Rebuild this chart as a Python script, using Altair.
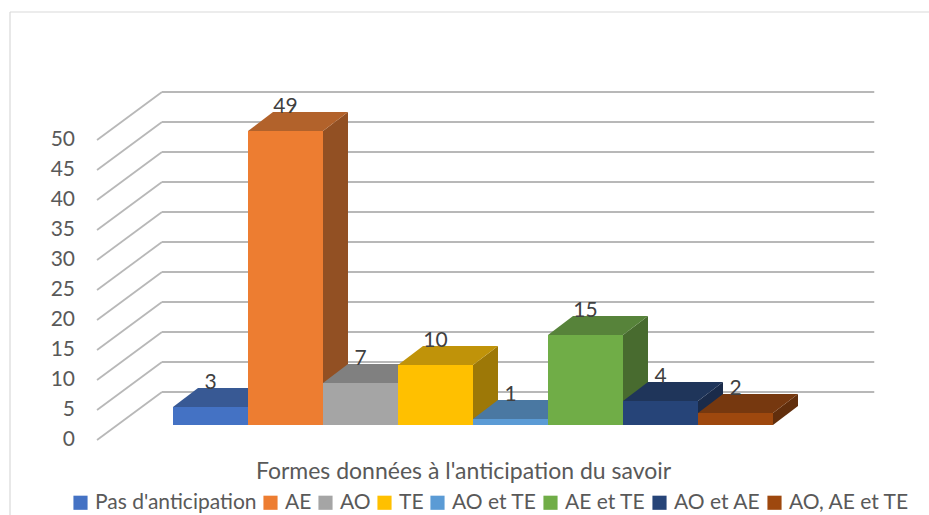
import altair as alt
import pandas as pd

# ---- data ----
categories = ["Pas d'anticipation", "AE", "AO", "TE", "AO et TE", "AE et TE", "AO et AE", "AO, AE et TE"]
values = [3, 49, 7, 10, 1, 15, 4, 2]
colors = ["#4472C4", "#ED7D31", "#A5A5A5", "#FFC000", "#5B9BD5", "#70AD47", "#264478", "#9E480E"]
ticks = [0, 5, 10, 15, 20, 25, 30, 35, 40, 45, 50]
axis_title = "Formes données à l'anticipation du savoir"

# ---- 3D styling constants (in scale units) ----
DX = 1 / 3          # depth shift of a bar, in bar widths
DY = 19 / 6         # depth rise of a bar, in value units
WALL_FX, WALL_BX = -1.013, -0.147   # wall front / back edge
WALL_FY, WALL_BY = -2.5, 5.5        # value offsets of wall front / back
GRID_END = 9.35
FONT = "Lato"
TXT = "#595959"


def shade(hex_color, f, grey=0.08):
    h = hex_color.lstrip("#")
    r, g, b = (int(h[i:i + 2], 16) for i in (0, 2, 4))
    m = (r + g + b) / 3
    out = []
    for c in (r, g, b):
        c = c * (1 - grey) + m * grey
        out.append(int(c * f))
    return "#%02x%02x%02x" % tuple(out)


bars = pd.DataFrame({"cat": categories, "value": values, "color": colors})
bars["x0"] = range(len(bars))
bars["x1"] = bars["x0"] + 1
bars["xc"] = bars["x0"] + 0.5
bars["ytop"] = bars["value"] + DY

top_rows, side_rows = [], []
for i, (c, v, col) in enumerate(zip(categories, values, colors)):
    ft = shade(col, 0.78)
    fs = shade(col, 0.64)
    top_rows += [
        {"fill": ft, "x": i, "lo": v, "hi": v},
        {"fill": ft, "x": i + DX, "lo": v, "hi": v + DY},
        {"fill": ft, "x": i + 1, "lo": v, "hi": v + DY},
        {"fill": ft, "x": i + 1 + DX, "lo": v + DY, "hi": v + DY},
    ]
    side_rows += [
        {"fill": fs, "x": i + 1, "lo": 0, "hi": v},
        {"fill": fs, "x": i + 1 + DX, "lo": DY, "hi": v + DY},
    ]
tops = pd.DataFrame(top_rows)
sides = pd.DataFrame(side_rows)

grid_rows = []
for t in ticks:
    grid_rows.append({"x": WALL_FX, "x2": WALL_BX, "y": t + WALL_FY, "y2": t + WALL_BY})
    grid_rows.append({"x": WALL_BX, "x2": GRID_END, "y": t + WALL_BY, "y2": t + WALL_BY})
grid = pd.DataFrame(grid_rows)
tick_df = pd.DataFrame({"t": ticks, "x": [WALL_FX] * len(ticks), "y": [t + WALL_FY for t in ticks]})

xs = alt.Scale(domain=[-173 / 75, 756 / 75], nice=False, zero=False)
ys = alt.Scale(domain=[-15, 425 / 6], nice=False, zero=False)
x_axis = alt.Axis(
    title=axis_title, labels=False, ticks=False, domain=False, grid=False,
    titleFont=FONT, titleFontSize=23, titleFontWeight="normal", titleColor=TXT,
    titleX=463, titleY=-44, titleBaseline="middle", titleAlign="center")
X = lambda f: alt.X(f, type="quantitative", scale=xs, axis=x_axis)
Y = lambda f: alt.Y(f, type="quantitative", scale=ys, axis=None)

border = alt.Chart(pd.DataFrame({"k": [0]}))
border_top = border.mark_rule(color="#D9D9D9", strokeWidth=1.2).encode(
    x=alt.value(10), x2=alt.value(929), y=alt.value(12))
border_left = border.mark_rule(color="#D9D9D9", strokeWidth=1.2).encode(
    x=alt.value(10), y=alt.value(12), y2=alt.value(515))

gridlines = alt.Chart(grid).mark_rule(color="#B8B8B8", strokeWidth=1.8).encode(
    x=X("x"), x2="x2", y=Y("y"), y2="y2")

side_layer = alt.Chart(sides).mark_area(interpolate="linear").encode(
    x=X("x"), y=Y("lo"), y2=alt.Y2("hi"),
    fill=alt.Fill("fill:N", scale=None))

top_layer = alt.Chart(tops).mark_area(interpolate="linear").encode(
    x=X("x"), y=Y("lo"), y2=alt.Y2("hi"),
    fill=alt.Fill("fill:N", scale=None))

front_layer = alt.Chart(bars).mark_rect().encode(
    x=X("x0"),
    x2="x1",
    y=Y("value"),
    y2=alt.Y2(datum=0),
    color=alt.Color("cat:N", scale=alt.Scale(domain=categories, range=colors),
                    legend=alt.Legend(
                        title=None, orient="none", legendX=70, legendY=492,
                        direction="horizontal", columns=8, symbolType="square",
                        symbolSize=200, symbolStrokeWidth=0, labelFont=FONT,
                        labelFontSize=21, labelColor=TXT, labelOffset=4,
                        columnPadding=3, labelLimit=400)),
)

value_labels = alt.Chart(bars).mark_text(
    font=FONT, fontSize=21, color="#404040", baseline="alphabetic", align="center", dy=1
).encode(x=X("xc"), y=Y("ytop"), text="value:Q")

tick_labels = alt.Chart(tick_df).mark_text(
    font=FONT, fontSize=21, color=TXT, baseline="middle", align="right", dx=-22
).encode(x=X("x"), y=Y("y"), text="t:Q")

chart = alt.layer(
    border_top, border_left, gridlines, side_layer, top_layer, front_layer,
    value_labels, tick_labels
).properties(
    width=929, height=515, padding=0,
    autosize=alt.AutoSizeParams(type="none"),
    background="white",
).configure_view(stroke=None)

chart.save("out.html", embed_options={"renderer": "svg", "actions": False})
